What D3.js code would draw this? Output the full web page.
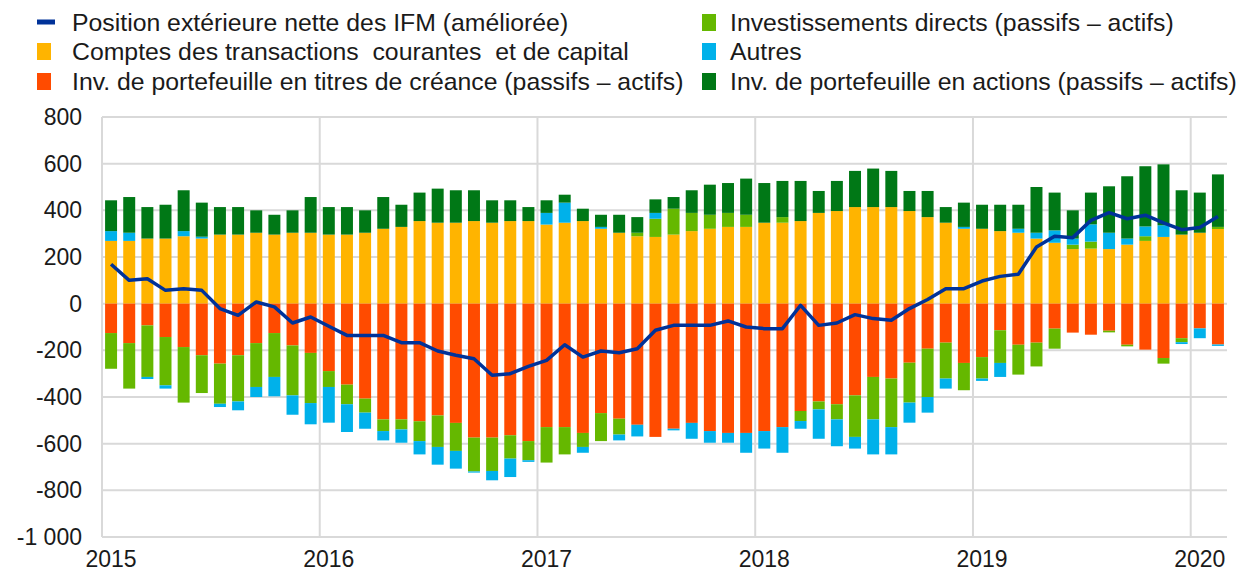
<!DOCTYPE html>
<html>
<head>
<meta charset="utf-8">
<script src="https://cdn.jsdelivr.net/npm/d3@7"></script>
<style>
  body { margin: 0; background: #fff; }
  svg { display: block; font-family: "Liberation Sans", Arial, sans-serif; }
</style>
</head>
<body>
<div id="chart"></div>
<script>
/* Stacked monthly contributions to the MFI net external position, 2015 - Feb 2020. */

const years = ["2015", "2016", "2017", "2018", "2019", "2020"];

// one entry per month, Jan 2015 .. Feb 2020
const currentCapital = [
  269, 269, 279, 279, 289, 279, 296, 296, 304, 296, 304, 304,
  296, 296, 304, 321, 329, 354, 347, 347, 354, 347, 354, 354,
  339, 347, 354, 321, 304, 289, 286, 296, 311, 321, 329, 329,
  347, 347, 354, 389, 397, 414, 414, 414, 397, 371, 347, 321,
  321, 311, 304, 279, 261, 234, 236, 234, 253, 269, 286, 296,
  304, 320];
const debtPortfolio = [
  -126, -169, -93, -143, -186, -221, -257, -221, -169, -126, -179, -211,
  -289, -347, -407, -496, -496, -504, -479, -511, -574, -574, -564, -589,
  -529, -529, -554, -469, -493, -519, -571, -536, -511, -546, -554, -554,
  -546, -529, -460, -419, -431, -393, -314, -321, -253, -193, -167, -254,
  -229, -114, -176, -167, -107, -124, -133, -116, -176, -197, -233, -148,
  -106, -175];
const directInv = [
  -153, -195, -221, -207, -238, -162, -172, -198, -188, -188, -214, -215,
  -68, -84, -60, -50, -43, -85, -135, -120, -145, -143, -100, -82,
  -152, -117, -60, -120, -68, 15, 78, 111, 78, 60, 60, 52,
  0, 24, -43, -34, -65, -178, -182, -208, -171, -207, -154, -117,
  -92, -140, -128, -102, -86, 19, 30, -7, -7, 20, -24, -17,
  0, 9];
const others = [
  42, 35, -9, -14, 22, 8, -14, -38, -43, -83, -83, -91,
  -153, -119, -69, -40, -57, -57, -76, -76, -5, -40, -79, -7,
  50, 86, -25, 8, -25, -50, 25, -7, -68, -50, -42, -85,
  -75, -110, -33, -126, -115, -50, -150, -117, -86, -67, -43, 8,
  -10, -60, 17, 25, 53, 26, 74, 70, 26, 42, 50, -8,
  -42, -6];
const equityPortfolio = [
  132, 153, 135, 145, 175, 146, 118, 118, 96, 85, 96, 153,
  118, 118, 96, 136, 95, 122, 146, 139, 132, 96, 89, 60,
  54, 34, 53, 52, 77, 67, 58, 50, 97, 129, 128, 155,
  170, 155, 172, 94, 129, 155, 165, 155, 86, 112, 67, 104,
  103, 113, 103, 196, 162, 121, 136, 199, 267, 258, 261, 190,
  172, 225];
const netPosition = [
  169, 100, 107, 57, 64, 57, -21, -50, 7, -14, -83, -57,
  -97, -136, -136, -136, -167, -167, -203, -221, -236, -307, -300, -269,
  -243, -176, -229, -203, -210, -193, -114, -93, -93, -93, -74, -100,
  -107, -107, -7, -93, -83, -47, -64, -71, -21, 18, 64, 64,
  97, 117, 126, 243, 289, 283, 357, 390, 364, 379, 346, 317,
  326, 374];

const yTicks = [-1000, -800, -600, -400, -200, 0, 200, 400, 600, 800];

const seriesKeys = ["ca", "debt", "direct", "other", "equity"];
const seriesColors = {
  ca: "#ffb400", debt: "#ff4b00", direct: "#65b800", other: "#00b1ea", equity: "#007816"
};

const months = d3.range(currentCapital.length);
const data = months.map(i => ({
  i: i,
  ca: currentCapital[i],
  debt: debtPortfolio[i],
  direct: directInv[i],
  other: others[i],
  equity: equityPortfolio[i]
}));

const width = 1238,
      height = 578,
      margin = ({top: 117, right: 11, bottom: 41, left: 102});

const svg = d3.select("#chart")
  .append("svg")
  .attr("width", width)
  .attr("height", height)
  .attr("viewBox", [0, 0, width, height]);

const x = d3.scaleBand()
  .domain(months)
  .range([margin.left, width - margin.right])
  .paddingInner(0.34)
  .paddingOuter(0.17);

const y = d3.scaleLinear()
  .domain([-1000, 800])
  .range([height - margin.bottom, margin.top]);

const fr = d3.formatLocale({decimal: ",", thousands: " ", grouping: [3], currency: ["", ""], minus: "-"});
const fmt = fr.format(",d");

// grid
const slotStart = i => x(i) - x.step() * x.paddingInner() / 2;

svg.append("g")
  .selectAll("line")
  .data(yTicks)
  .join("line")
  .attr("x1", margin.left)
  .attr("x2", width - margin.right)
  .attr("y1", d => y(d))
  .attr("y2", d => y(d))
  .attr("stroke", "#d9d9d9")
  .attr("stroke-width", 2);

svg.append("g")
  .selectAll("line")
  .data(years.map((yr, k) => k * 12))
  .join("line")
  .attr("x1", d => slotStart(d))
  .attr("x2", d => slotStart(d))
  .attr("y1", y(800))
  .attr("y2", y(-1000))
  .attr("stroke", "#d9d9d9")
  .attr("stroke-width", 2);

// stacked bars
const stack = d3.stack()
  .keys(seriesKeys)
  .offset(d3.stackOffsetDiverging);

const layers = stack(data);

svg.append("g")
  .selectAll("g")
  .data(layers)
  .join("g")
  .attr("fill", d => seriesColors[d.key])
  .selectAll("rect")
  .data(d => d)
  .join("rect")
  .attr("x", d => x(d.data.i))
  .attr("width", x.bandwidth())
  .attr("y", d => y(Math.max(d[0], d[1])))
  .attr("height", d => Math.abs(y(d[0]) - y(d[1])));

// net position line
const line = d3.line()
  .x((d, i) => x(i) + x.bandwidth() / 2)
  .y(d => y(d));

svg.append("path")
  .datum(netPosition)
  .attr("fill", "none")
  .attr("stroke", "#003299")
  .attr("stroke-width", 3.5)
  .attr("stroke-linejoin", "round")
  .attr("d", line);

// axes
const yAxis = g => g
  .attr("transform", `translate(${margin.left},0)`)
  .call(d3.axisLeft(y).tickValues(yTicks).tickFormat(fmt).tickSize(0).tickPadding(20))
  .call(g => g.select(".domain").remove());

const xAxis = g => g
  .attr("transform", `translate(0,${height - margin.bottom})`)
  .call(d3.axisBottom(x)
    .tickValues(years.map((yr, k) => k * 12))
    .tickFormat((d, k) => years[k])
    .tickSize(0)
    .tickPadding(14))
  .call(g => g.select(".domain").remove());

svg.append("g").call(yAxis);
svg.append("g").call(xAxis);

svg.selectAll(".tick text")
  .attr("font-size", 23)
  .attr("font-family", "Liberation Sans, Arial, sans-serif")
  .attr("fill", "#1a1a1a");

// legend
const legendItems = [
  {label: "Position extérieure nette des IFM (améliorée)", color: "#003299", type: "line", col: 0, row: 0},
  {label: "Comptes des transactions  courantes  et de capital", color: seriesColors.ca, col: 0, row: 1},
  {label: "Inv. de portefeuille en titres de créance (passifs – actifs)", color: seriesColors.debt, col: 0, row: 2},
  {label: "Investissements directs (passifs – actifs)", color: seriesColors.direct, col: 1, row: 0},
  {label: "Autres", color: seriesColors.other, col: 1, row: 1},
  {label: "Inv. de portefeuille en actions (passifs – actifs)", color: seriesColors.equity, col: 1, row: 2}
];

const colX = [37, 702],
      rowY = [22, 51, 81];

const leg = svg.append("g")
  .selectAll("g")
  .data(legendItems)
  .join("g")
  .attr("transform", d => `translate(${colX[d.col]},${rowY[d.row]})`);

leg.filter(d => d.type === "line")
  .append("rect")
  .attr("x", 0).attr("y", -2.5)
  .attr("width", 18).attr("height", 5)
  .attr("fill", d => d.color);

leg.filter(d => d.type !== "line")
  .append("rect")
  .attr("x", 0).attr("y", -8)
  .attr("width", 14).attr("height", 17)
  .attr("fill", d => d.color);

leg.append("text")
  .attr("x", d => d.col === 0 ? 35 : 28)
  .attr("dy", "0.36em")
  .attr("font-size", 24.8)
  .attr("fill", "#1a1a1a")
  .style("white-space", "pre")
  .text(d => d.label);
</script>
</body>
</html>
